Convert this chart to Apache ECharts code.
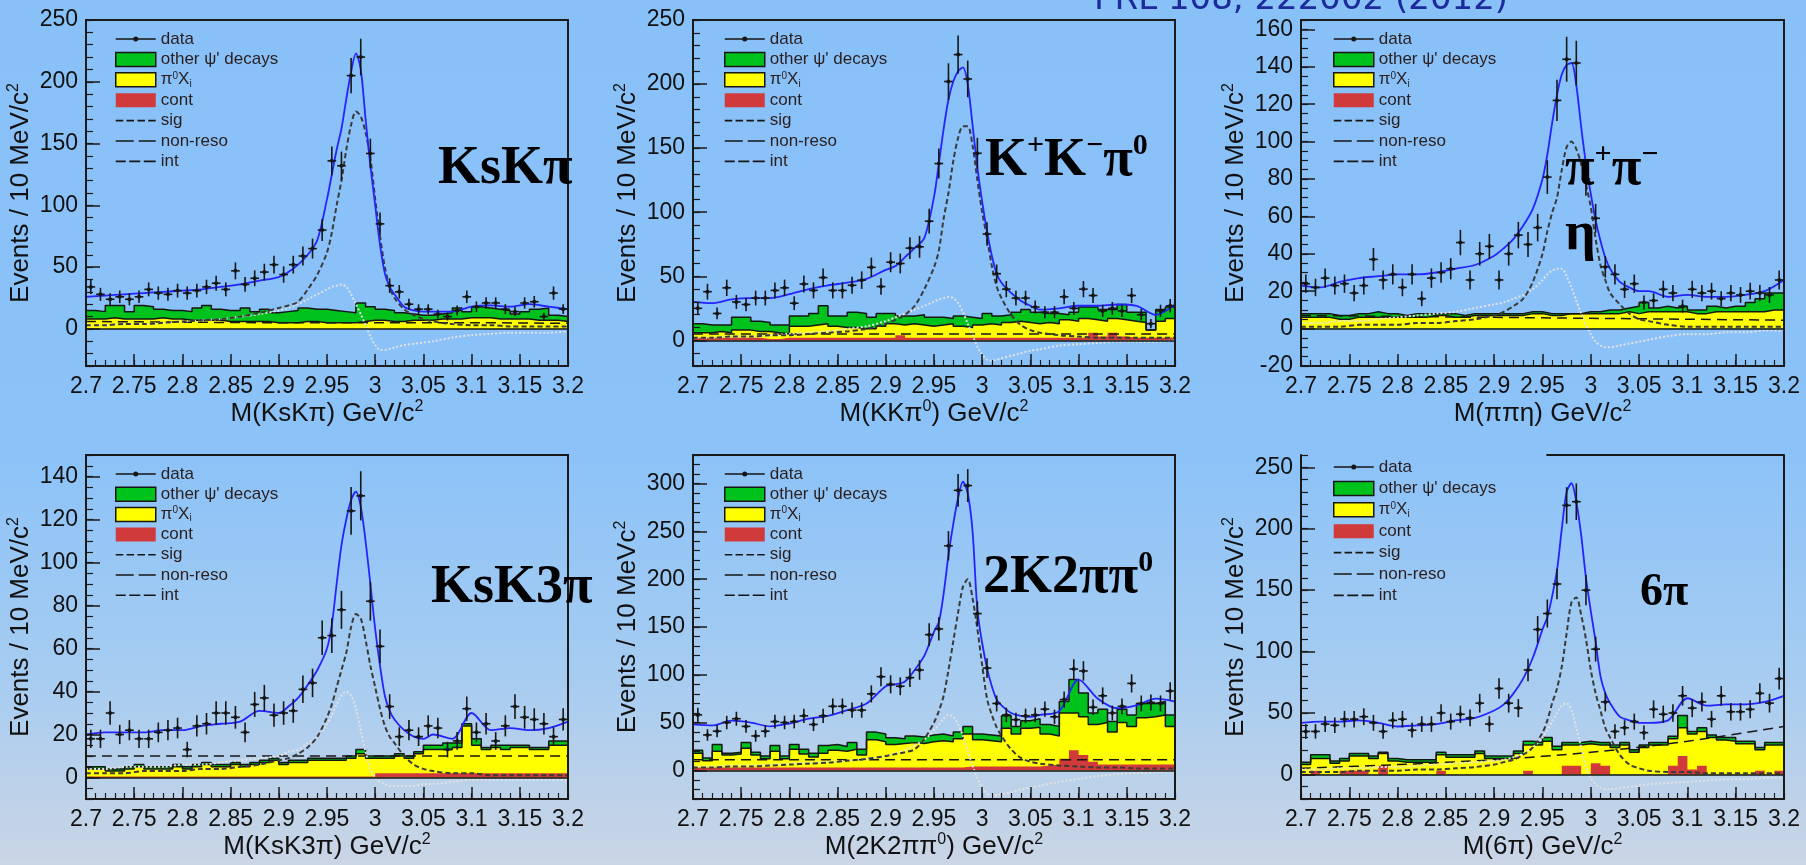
<!DOCTYPE html>
<html><head><meta charset="utf-8">
<script src="https://cdn.jsdelivr.net/npm/echarts@6/dist/echarts.min.js"></script>
<style>html,body{margin:0;padding:0;background:#88c0f8;}#c{width:1806px;height:865px;}</style>
</head><body><div id="c"></div>
<script>
// ---------- binning / shared axes ----------
const binLow = 2.70, binWidth = 0.01;
const xMajorTicks = [2.7, 2.75, 2.8, 2.85, 2.9, 2.95, 3.0, 3.05, 3.1, 3.15, 3.2];
const curveX = [2.70,2.72,2.74,2.76,2.78,2.80,2.82,2.84,2.86,2.88,2.90,2.91,2.92,2.93,2.94,2.95,2.955,2.96,2.965,2.97,2.975,2.98,2.985,2.99,2.995,3.00,3.005,3.01,3.015,3.02,3.03,3.04,3.05,3.06,3.08,3.10,3.12,3.14,3.16,3.18,3.20];
const nonResoX = [2.7, 2.8, 2.9, 3.0, 3.1, 3.2];

// ---------- KsKpi ----------
const kskpiYTicks = [0,50,100,150,200,250];
const kskpiData = [34,28,24,26,24,26,32,29,28,31,29,31,34,37,32,47,36,41,46,52,44,52,59,65,80,136,132,205,220,142,85,35,30,20,16,16,12,10,15,26,18,21,21,16,14,21,22,10,29,16];
const kskpiStackOther = [15,14,19,19,14,19,18,16,15,15,14,17,19,16,15,15,17,14,16,13,14,15,17,16,16,15,14,13,21,18,16,15,13,12,11,11,12,13,17,14,18,17,16,15,12,14,16,17,11,10];
const kskpiStackPi0X = [8,8,9,8,8,8,8,9,8,8,7,7,7,7,6,6,6,6,6,5,5,5,6,6,5,5,5,5,6,7,7,6,6,7,7,7,8,8,8,9,9,9,8,8,8,8,7,7,7,6];
const kskpiCont = [0,0,0,0,0,0,0,0,0,0,0,0,0,0,0,0,0,0,0,0,0,0,0,0,0,0,0,0,0,0,0,0,0,0,0,0,0,0,0,0,0,0,0,0,0,0,0,0,0,0];
const kskpiFit = [26,27,28,29,30,31,32,34,36,39,42,46,52,60,72,105,125,145,162,186,208,223,210,170,132,100,68,45,34,28,18,15,14,14,14,18,19,18,20,18,16];
const kskpiSig = [3,3,4,4,5,6,7,8,10,13,17,19,22,32,44,62,78,100,120,145,165,176,172,159,138,105,75,50,34,25,16,11,8,6,4,3,3,2,2,2,2];
const kskpiInt = [3,3,4,4,5,6,7,8,10,12,15,17,20,24,28,32,34,35,36,34,28,20,12,3,-6,-13,-17,-17,-16,-15,-13,-12,-11,-10,-7,-5,-4,-3,-3,-3,-2];
const kskpiNonReso = [6,5.5,5,5,5,4.5];

// ---------- K+K-pi0 ----------
const kkpi0YTicks = [0,50,100,150,200,250];
const kkpi0Data = [25,38,21,41,30,28,33,33,39,41,29,44,39,49,39,39,43,47,57,42,61,60,72,73,93,138,202,223,204,146,83,52,40,33,33,26,22,22,34,25,40,35,23,25,23,35,20,13,23,27];
const kkpi0StackOther = [13,12,12,12,18,18,15,14,12,12,19,19,21,27,19,19,22,21,18,21,21,19,19,20,18,18,17,19,18,17,21,19,20,22,24,22,21,21,20,22,26,26,24,24,28,22,22,8,24,26];
const kkpi0StackPi0X = [6,6,7,6,8,8,7,7,6,5,11,11,12,13,11,10,10,9,9,11,13,12,13,12,11,12,13,11,10,12,13,12,14,15,14,13,14,13,16,15,17,16,15,17,16,15,14,8,15,17];
const kkpi0Cont = [2,2,2,2,2,2,2,1,1,2,2,2,2,2,2,2,2,2,2,2,2,4,2,2,2,2,2,2,2,2,2,2,2,2,2,2,2,2,2,2,2,6,3,6,3,2,2,2,2,2];
const kkpi0Fit = [30,29,32,33,33,36,40,43,45,48,55,58,65,72,80,112,138,165,188,202,210,213,200,168,135,108,85,66,52,45,37,31,27,24,25,27,27,28,27,20,28];
const kkpi0Sig = [2,2,3,3,4,4,5,6,7,9,13,16,20,27,40,57,70,95,115,140,158,167,167,152,125,100,80,58,42,33,20,12,8,6,4,3,2,2,2,2,2];
const kkpi0Int = [2,2,3,3,4,5,6,7,9,11,15,18,21,24,27,30,32,33,34,33,29,22,13,4,-5,-11,-15,-16,-15,-14,-12,-10,-8,-7,-4,-3,-2,-1,-1,-1,0];
const kkpi0NonReso = [5,5,5,5,5,5];

// ---------- pi+pi-eta ----------
const pipietaYTicks = [-20,0,20,40,60,80,100,120,140,160];
const pipietaData = [24,22,27,23,24,19,23,37,26,29,22,29,16,27,30,32,46,26,40,44,26,40,50,45,54,81,122,144,142,80,59,33,29,21,24,14,15,21,19,12,21,19,20,16,19,18,20,19,18,26];
const pipietaStackOther = [8,8,8,7,7,8,8,9,8,8,7,8,8,8,8,8,7,8,8,8,8,8,8,9,9,8,8,8,8,9,9,10,10,11,12,14,11,12,11,12,10,10,12,11,12,12,14,16,19,19];
const pipietaStackPi0X = [6,6,6,5,5,6,6,6,6,6,6,6,6,7,7,6,6,7,7,7,7,7,7,8,8,7,7,8,8,8,8,8,8,9,8,9,9,9,9,9,8,8,9,9,9,9,9,9,10,10];
const pipietaCont = [0,0,0,0,0,0,0,0,0,0,0,0,0,0,0,0,0,0,0,0,0,0,0,0,0,0,0,0,0,0,0,0,0,0,0,0,0,0,0,0,0,0,0,0,0,0,0,0,0,0];
const pipietaFit = [23,22,25,27,28,29,29,30,32,34,39,43,48,55,64,80,93,110,125,136,141,142,130,108,88,72,58,47,38,32,25,22,20,20,17,18,17,17,18,20,26];
const pipietaSig = [1,1,1,2,2,2,3,3,4,5,7,9,12,16,25,40,52,62,70,85,97,100,96,88,77,65,48,34,26,19,13,8,5,4,2,1,1,1,1,1,1];
const pipietaInt = [3,3,4,4,5,6,7,8,9,11,13,14,16,18,21,26,29,31,32,32,28,22,15,8,2,-3,-7,-9,-10,-10,-9,-8,-7,-6,-4,-3,-3,-2,-2,-1,-1];
const pipietaNonReso = [7,6.5,6,5.5,5,4.5];

// ---------- KsK3pi ----------
const ksk3piYTicks = [0,20,40,60,80,100,120,140];
const ksk3piData = [18,18,30,20,22,18,18,21,22,23,13,24,25,30,30,28,21,34,37,29,30,31,41,44,65,66,78,124,131,82,61,33,19,22,19,24,23,13,17,32,21,25,17,24,33,28,27,25,19,27];
const ksk3piStackOther = [5,5,4,4,5,6,5,5,5,6,5,6,7,6,6,7,6,7,8,9,7,8,8,9,9,9,9,10,13,10,10,10,11,10,12,15,15,16,16,25,18,14,15,15,15,15,14,14,17,17];
const ksk3piStackPi0X = [4,4,3,3,4,5,4,4,4,5,4,5,6,5,5,6,5,6,7,8,6,7,7,8,8,8,8,9,11,9,9,9,10,9,11,13,13,13,14,24,15,13,14,13,14,14,13,13,15,15];
const ksk3piCont = [0.5,0.5,0.5,0.5,0.5,0.5,0.5,0.5,0.5,0.5,0.5,0.5,0.5,0.5,0.5,0.5,0.5,0.5,0.5,0.5,0.5,0.5,0.5,0.5,0.5,0.5,0.5,0.5,0.5,0.5,2,2,2,2,2,2,2,2,2,2,2,2,2,2,2,2,2,2,2,2];
const ksk3piFit = [20,21,21,21,22,22,24,25,26,31,30,33,37,43,50,60,71,90,108,120,129,133,126,110,90,69,52,38,31,27,22,19,18,20,18,30,22,23,22,23,26];
const ksk3piSig = [2,2,2,3,3,3,4,4,5,6,8,9,11,14,19,28,34,42,50,58,70,76,74,64,52,42,32,24,19,16,10,6,4,3,2,2,1,1,1,1,1];
const ksk3piInt = [4,4,5,5,5,6,6,7,8,9,10,12,13,16,19,25,29,34,38,40,38,32,22,12,4,0,-2,-3,-4,-4,-4,-4,-3,-3,-2,-1,-1,-1,-1,-1,-1];
const ksk3piNonReso = [10,10,10,10,10,10];

// ---------- 2K2pipi0 ----------
const k2pipi0YTicks = [0,50,100,150,200,250,300];
const k2pipi0Data = [58,37,41,50,54,46,36,41,51,50,51,57,48,57,67,67,63,63,80,98,90,88,97,105,142,148,235,293,298,164,107,70,58,53,57,58,64,56,74,106,104,66,78,60,67,91,70,71,70,83];
const k2pipi0StackOther = [21,13,27,18,19,29,19,15,26,15,27,22,18,26,27,25,29,22,40,38,34,33,36,35,37,38,36,40,46,38,37,36,57,46,52,54,48,46,72,95,81,60,64,51,64,58,70,70,72,58];
const k2pipi0StackPi0X = [18,10,20,16,17,23,16,12,20,12,22,17,14,18,21,20,22,16,32,30,27,28,29,28,30,31,30,33,38,32,31,30,44,38,44,45,38,36,60,60,56,48,50,40,50,46,55,56,58,46];
const k2pipi0Cont = [3,3,3,3,3,3,3,3,3,3,3,3,3,3,3,3,3,3,3,3,3,3,3,3,3,3,3,3,4,4,4,4,4,4,4,4,5,6,12,21,16,9,6,6,6,6,6,6,6,6];
const k2pipi0Fit = [48,47,52,50,46,49,54,57,63,70,88,90,93,105,120,145,155,185,225,258,285,302,290,250,168,133,107,88,74,68,60,57,56,58,62,95,75,65,68,75,72];
const k2pipi0Sig = [3,3,4,4,5,6,7,8,10,12,15,17,19,22,33,50,62,78,105,135,165,192,200,180,148,110,75,58,45,36,22,13,9,7,5,4,3,3,2,2,2];
const k2pipi0Int = [4,4,5,5,6,7,8,9,10,12,15,18,21,26,32,42,48,54,58,56,48,36,20,5,-8,-18,-24,-26,-26,-25,-23,-20,-18,-16,-12,-9,-6,-4,-3,-2,-1];
const k2pipi0NonReso = [11,11,11,11,11,11];

// ---------- 6pi ----------
const sixpiYTicks = [0,50,100,150,200,250];
const sixpiData = [35,35,41,40,45,45,47,42,35,44,45,36,41,41,50,43,49,46,58,41,70,58,54,85,118,131,155,219,222,150,102,59,35,38,43,34,53,49,50,64,54,59,45,64,51,51,53,66,58,78];
const sixpiStackOther = [10,16,16,11,13,17,17,15,18,13,12,12,12,12,18,16,16,16,19,15,15,15,19,27,26,30,23,26,26,27,26,26,24,26,20,24,26,26,31,48,35,38,32,30,30,27,27,22,26,26];
const sixpiStackPi0X = [8,13,13,9,11,15,15,13,17,11,10,10,10,10,16,14,14,14,17,13,13,13,17,24,24,27,20,24,24,25,24,24,22,24,18,22,24,24,29,38,33,35,30,28,27,25,25,20,24,24];
const sixpiCont = [0,3,0,0,3,3,3,0,7,0,0,0,0,0,3,0,0,0,0,0,0,0,0,3,0,0,0,7,7,0,9,7,0,0,0,0,0,0,7,15,4,7,0,0,0,0,0,3,0,3];
const sixpiFit = [42,43,43,44,42,39,40,41,44,46,52,57,66,78,95,118,128,145,166,200,230,237,222,195,160,133,108,80,66,58,47,44,42,42,44,62,56,57,57,59,64];
const sixpiSig = [2,2,2,3,3,3,4,4,5,6,8,10,12,16,22,34,44,58,70,88,115,140,144,130,110,85,66,52,38,30,16,8,5,3,2,2,1,1,1,1,1];
const sixpiInt = [4,4,5,5,6,6,7,8,9,10,11,12,14,17,22,30,36,43,50,56,58,52,38,22,6,-3,-8,-11,-12,-12,-11,-10,-9,-8,-7,-6,-5,-4,-4,-3,-3];
const sixpiNonReso = [5,8,12,18,27,39];

// ---------- styles / layout ----------
const FONT = "'Liberation Sans', Arial, sans-serif";
const SERIF = "'Liberation Serif', 'Times New Roman', serif";
const GREEN = '#00c21c', YELLOW = '#ffff00', RED = '#d03a3a', BLUE = '#2424ff', INK = '#161616';

const panels = [
  {box:[86,20,482,346], y:[-30,250], yTicks:kskpiYTicks, yMinor:10, xName:'M(KsKπ) GeV/c{s|2}', yName:'Events / 10 MeV/c{s|2}', legend:[115,30,2.4],
   d:{data:kskpiData, other:kskpiStackOther, pi0x:kskpiStackPi0X, cont:kskpiCont, fit:kskpiFit, sig:kskpiSig, int:kskpiInt, nr:kskpiNonReso}},
  {box:[693,20,482,346], y:[-20,250], yTicks:kkpi0YTicks, yMinor:10, xName:'M(KKπ{s|0}) GeV/c{s|2}', yName:'Events / 10 MeV/c{s|2}', legend:[724,30,2.4],
   d:{data:kkpi0Data, other:kkpi0StackOther, pi0x:kkpi0StackPi0X, cont:kkpi0Cont, fit:kkpi0Fit, sig:kkpi0Sig, int:kkpi0Int, nr:kkpi0NonReso}},
  {box:[1301,20,483,346], y:[-20,165], yTicks:pipietaYTicks, yMinor:5, xName:'M(ππη) GeV/c{s|2}', yName:'Events / 10 MeV/c{s|2}', legend:[1333,30,2.4],
   d:{data:pipietaData, other:pipietaStackOther, pi0x:pipietaStackPi0X, cont:pipietaCont, fit:pipietaFit, sig:pipietaSig, int:pipietaInt, nr:pipietaNonReso}},
  {box:[86,455,482,344], y:[-10,150], yTicks:ksk3piYTicks, yMinor:5, xName:'M(KsK3π) GeV/c{s|2}', yName:'Events / 10 MeV/c{s|2}', legend:[115,465,2.2],
   d:{data:ksk3piData, other:ksk3piStackOther, pi0x:ksk3piStackPi0X, cont:ksk3piCont, fit:ksk3piFit, sig:ksk3piSig, int:ksk3piInt, nr:ksk3piNonReso}},
  {box:[693,455,482,344], y:[-30,330], yTicks:k2pipi0YTicks, yMinor:10, xName:'M(2K2ππ{s|0}) GeV/c{s|2}', yName:'Events / 10 MeVc{s|2}', legend:[724,465,2.2],
   d:{data:k2pipi0Data, other:k2pipi0StackOther, pi0x:k2pipi0StackPi0X, cont:k2pipi0Cont, fit:k2pipi0Fit, sig:k2pipi0Sig, int:k2pipi0Int, nr:k2pipi0NonReso}},
  {box:[1301,455,483,344], y:[-20,260], yTicks:sixpiYTicks, yMinor:10, xName:'M(6π) GeV/c{s|2}', yName:'Events / 10 MeV/c{s|2}', legend:[1333,458,3.4], partialFrame:[2.954,3.2],
   d:{data:sixpiData, other:sixpiStackOther, pi0x:sixpiStackPi0X, cont:sixpiCont, fit:sixpiFit, sig:sixpiSig, int:sixpiInt, nr:sixpiNonReso}}
];

function range(a, b, s) { const r = []; for (let k = 0; a + k * s <= b + 1e-9; k++) r.push(+(a + k * s).toFixed(4)); return r; }
const xMinorTicks = range(2.7, 3.2, 0.01);
const fmt = v => String(Math.round(v * 100) / 100);

const ANCH = 'M0,0h0.01v0.01zM39.99,13.99h0.01v0.01z';
const ICON_DATA = 'path://' + ANCH + 'M0,6.3H40V7.7H0zM17.5,7a2.5,2.5 0 1 1 5,0a2.5,2.5 0 1 1 -5,0z';
const ICON_SIG = 'path://' + ANCH + 'M0,6.2H7.5V7.8H0zM10.8,6.2H18.3V7.8H10.8zM21.7,6.2H29.2V7.8H21.7zM32.5,6.2H40V7.8H32.5z';
const ICON_NR = 'path://' + ANCH + 'M0,6.2H18V7.8H0zM23,6.2H40V7.8H23z';
const ICON_INT = 'path://' + ANCH + 'M0,6.2H10V7.8H0zM13.5,6.2H24.5V7.8H13.5zM28,6.2H40V7.8H28z';

const legendItems = [
  {name:'data', icon:ICON_DATA, itemStyle:{color:INK, borderWidth:0}},
  {name:"other ψ' decays", icon:'rect', itemStyle:{color:GREEN, borderColor:INK, borderWidth:1.5}},
  {name:'π0Xi', icon:'rect', itemStyle:{color:YELLOW, borderColor:INK, borderWidth:1.5}},
  {name:'cont', icon:'rect', itemStyle:{color:RED, borderWidth:0}},
  {name:'sig', icon:ICON_SIG, itemStyle:{color:INK, borderWidth:0}},
  {name:'non-reso', icon:ICON_NR, itemStyle:{color:INK, borderWidth:0}},
  {name:'int', icon:ICON_INT, itemStyle:{color:INK, borderWidth:0}}
];

const grids = [], xAxes = [], yAxes = [], series = [], legends = [];
const nameStyle = {fontSize:26, color:'#111', fontFamily:FONT, lineHeight:30, rich:{s:{fontSize:16, lineHeight:18, verticalAlign:'top', fontFamily:FONT, color:'#111'}}};

function stepData(arr) {
  const o = arr.map((v, j) => [+(binLow + binWidth * j).toFixed(3), v]);
  o.push([+(binLow + binWidth * arr.length).toFixed(3), arr[arr.length - 1]]);
  return o;
}
const curveData = (xs, ys) => xs.map((x, j) => [x, ys[j]]);

panels.forEach((p, i) => {
  const partial = !!p.partialFrame;
  grids.push({left:p.box[0], top:p.box[1], width:p.box[2], height:p.box[3], show:!partial, z:10,
              borderColor:'#1a1a1a', borderWidth:2, backgroundColor:'transparent'});
  const lineS = {color:'#1a1a1a', width:2};
  xAxes.push({gridIndex:i, type:'value', min:2.7, max:3.2, position:'bottom', z:10,
    axisLine:{show:partial, onZero:false, lineStyle:lineS},
    axisTick:{show:true, inside:true, length:12, customValues:xMajorTicks, lineStyle:{color:'#1a1a1a', width:1.5}},
    axisLabel:{customValues:xMajorTicks, formatter:fmt, fontSize:23, color:'#111', margin:9, fontFamily:FONT},
    splitLine:{show:false},
    name:p.xName, nameLocation:'middle', nameGap:32, nameTextStyle:nameStyle});
  xAxes.push({gridIndex:i, type:'value', min:2.7, max:3.2, position:'bottom', z:10,
    axisLine:{show:false, onZero:false},
    axisTick:{show:true, inside:true, length:6, customValues:xMinorTicks, lineStyle:{color:'#1a1a1a', width:1.2}},
    axisLabel:{show:false}, splitLine:{show:false}});
  yAxes.push({gridIndex:i, type:'value', min:p.y[0], max:p.y[1], position:'left', z:10,
    axisLine:{show:partial, onZero:false, lineStyle:lineS},
    axisTick:{show:true, inside:true, length:14, customValues:p.yTicks, lineStyle:{color:'#1a1a1a', width:1.5}},
    axisLabel:{customValues:p.yTicks, fontSize:23, color:'#111', margin:8, fontFamily:FONT},
    splitLine:{show:false},
    name:p.yName, nameLocation:'middle', nameGap:43, nameTextStyle:nameStyle});
  yAxes.push({gridIndex:i, type:'value', min:p.y[0], max:p.y[1], position:'left', z:10,
    axisLine:{show:false, onZero:false},
    axisTick:{show:true, inside:true, length:7, customValues:range(p.y[0], p.y[1], p.yMinor), lineStyle:{color:'#1a1a1a', width:1.2}},
    axisLabel:{show:false}, splitLine:{show:false}});

  const xi = 2 * i, yi = 2 * i, D = p.d;
  const common = {xAxisIndex:xi, yAxisIndex:yi, silent:true, symbol:'none'};
  series.push(Object.assign({type:'line', name:"other ψ' decays", step:'end', data:stepData(D.other),
    lineStyle:{color:INK, width:1.5}, itemStyle:{color:GREEN}, areaStyle:{color:GREEN, opacity:1}, z:2}, common));
  series.push(Object.assign({type:'line', name:'π0Xi', step:'end', data:stepData(D.pi0x),
    lineStyle:{color:INK, width:1.5}, itemStyle:{color:YELLOW}, areaStyle:{color:YELLOW, opacity:1}, z:2}, common));
  series.push(Object.assign({type:'line', name:'cont', step:'end', data:stepData(D.cont),
    lineStyle:{width:0, opacity:0}, itemStyle:{color:RED}, areaStyle:{color:RED, opacity:1}, z:2,
    markLine:{silent:true, symbol:['none','none'], label:{show:false}, lineStyle:{color:INK, width:1.5, type:'solid'}, data:[{yAxis:0}]}}, common));
  const nrSeries = Object.assign({type:'line', name:'non-reso', data:curveData(nonResoX, D.nr), smooth:0.3,
    lineStyle:{color:INK, width:1.5, type:[10,6]}, itemStyle:{color:INK}, z:3, clip:false}, common);
  if (partial) {
    nrSeries.markLine = {silent:true, symbol:['none','none'], label:{show:false}, lineStyle:{color:'#1a1a1a', width:2, type:'solid'},
      data:[[{coord:[p.partialFrame[0], p.y[1]]}, {coord:[p.partialFrame[1], p.y[1]]}]]};
  }
  series.push(nrSeries);
  series.push(Object.assign({type:'line', name:'int', data:curveData(curveX, D.int), smooth:0.3,
    lineStyle:{color:'#e2e2e2', width:2, type:[2,2]}, itemStyle:{color:'#e2e2e2'}, z:3}, common));
  series.push(Object.assign({type:'line', name:'sig', data:curveData(curveX, D.sig), smooth:0.3,
    lineStyle:{color:'#3a3a3a', width:2, type:[5,3]}, itemStyle:{color:'#3a3a3a'}, z:3}, common));
  series.push(Object.assign({type:'line', name:'fit', data:curveData(curveX, D.fit), smooth:0.3,
    lineStyle:{color:BLUE, width:1.8}, itemStyle:{color:BLUE}, z:4}, common));
  series.push({type:'custom', name:'data', xAxisIndex:xi, yAxisIndex:yi, silent:true, z:5,
    itemStyle:{color:INK},
    data:D.data.map((v, j) => [binLow + binWidth * (j + 0.5), v, Math.sqrt(v)]),
    encode:{x:0, y:1},
    renderItem:function (params, api) {
      const x = api.value(0), y = api.value(1), e = api.value(2);
      const c = api.coord([x, y]), t = api.coord([x, y + e]), b = api.coord([x, y - e]);
      const l = api.coord([x - binWidth * 0.45, y]), r = api.coord([x + binWidth * 0.45, y]);
      const st = {stroke:INK, lineWidth:1.6};
      return {type:'group', children:[
        {type:'line', shape:{x1:c[0], y1:t[1], x2:c[0], y2:b[1]}, style:st},
        {type:'line', shape:{x1:l[0], y1:c[1], x2:r[0], y2:c[1]}, style:st},
        {type:'circle', shape:{cx:c[0], cy:c[1], r:2}, style:{fill:INK}}
      ]};
    }});

  legends.push({orient:'vertical', left:p.legend[0], top:p.legend[1], itemWidth:40, itemHeight:14, itemGap:p.legend[2],
    padding:0, selectedMode:false, z:20,
    textStyle:{fontSize:17, color:'#2a1e1e', fontFamily:FONT, lineHeight:18,
      rich:{t:{fontSize:17, lineHeight:18, fontFamily:FONT, color:'#2a1e1e'},
            sup:{fontSize:10, lineHeight:10, verticalAlign:'top', fontFamily:FONT, color:'#2a1e1e'},
            sub:{fontSize:10, lineHeight:10, verticalAlign:'bottom', fontFamily:FONT, color:'#2a1e1e'}}},
    formatter:n => n === 'π0Xi' ? '{t|π}{sup|0}{t|X}{sub|i}' : n,
    data:legendItems});
});

// extra right-hand frame line for the 6π panel
yAxes.push({gridIndex:5, type:'value', min:-20, max:260, position:'right', z:10,
  axisLine:{show:true, onZero:false, lineStyle:{color:'#1a1a1a', width:2}},
  axisTick:{show:false}, axisLabel:{show:false}, splitLine:{show:false}});

const MAIN = {fontSize:54, fontFamily:SERIF, fontWeight:'bold', fill:'#000', lineHeight:60};
const SUP = {fontSize:30, fontFamily:SERIF, fontWeight:'bold', fill:'#000', lineHeight:46, verticalAlign:'top'};
const M6 = {fontSize:46, fontFamily:SERIF, fontWeight:'bold', fill:'#000', lineHeight:52};
function label(x, y, text) {
  return {type:'text', x:x, y:y, z:100, silent:true, style:{text:text, rich:{m:MAIN, s:SUP, m6:M6}, align:'left', verticalAlign:'top'}};
}

const option = {
  animation:false,
  backgroundColor:{type:'linear', x:0, y:0, x2:0, y2:1, colorStops:[
    {offset:0, color:'#88c0f8'}, {offset:0.52, color:'#8bc2f8'}, {offset:0.78, color:'#a6ccf1'}, {offset:1, color:'#cad5e5'}]},
  grid:grids, xAxis:xAxes, yAxis:yAxes, series:series, legend:legends,
  graphic:[
    {type:'text', x:1094, y:0, z:100, silent:true, style:{text:'PRL 108, 222002 (2012)', fontSize:34, fontFamily:"'DejaVu Sans', sans-serif", fill:'#1c2a9c', align:'left', verticalAlign:'middle'}},
    label(438, 139.5, '{m|KsKπ}'),
    label(985, 131, '{m|K}{s|+}{m|K}{s|−}{m|π}{s|0}'),
    label(1565, 140, '{m|π}{s|+}{m|π}{s|−}'),
    label(1565, 205, '{m|η}'),
    label(431, 558.5, '{m|KsK3π}'),
    label(983, 548, '{m|2K2ππ}{s|0}'),
    label(1640, 567, '{m6|6π}')
  ]
};
const chart = echarts.init(document.getElementById('c'), null, {renderer:'canvas'});
chart.setOption(option);
</script></body></html>
